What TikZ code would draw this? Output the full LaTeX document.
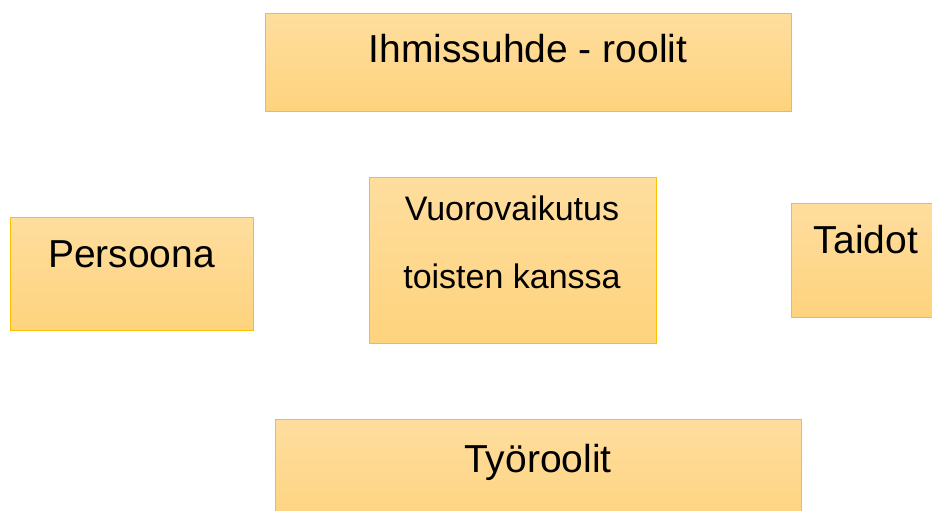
\documentclass[tikz,border=0pt]{standalone}
\usepackage{fontspec}
\setmainfont{Liberation Sans}
\usetikzlibrary{positioning}
\definecolor{boxtop}{HTML}{FEDD9E}
\definecolor{boxbot}{HTML}{FED37D}
\definecolor{boxline}{HTML}{FFC000}
\tikzset{
  area/.style={draw=boxline, line width=1.2pt, top color=boxtop, bottom color=boxbot,
    anchor=north west, inner sep=0pt},
  bigtext/.style={font=\fontsize{39}{44}\selectfont, anchor=base, inner sep=0pt},
  midtext/.style={font=\fontsize{34}{40}\selectfont, anchor=base, inner sep=0pt},
}
\begin{document}
\begin{tikzpicture}[x=1pt,y=-1pt]
	% --- Canvas ---
	\useasboundingbox (0,0) rectangle (932,511);
	% --- Boxes ---
	\node[area, minimum width=526pt, minimum height=98pt] (ihmissuhde) at (265,13) {};
	\node[area, minimum width=243pt, minimum height=113pt] (persoona) at (10,217) {};
	\node[area, minimum width=287pt, minimum height=166pt] (vuoro) at (369,177) {};
	\node[area, minimum width=160pt, minimum height=114pt] (taidot) at (791,203) {};
	\node[area, minimum width=526pt, minimum height=110pt] (tyoroolit) at (275,419) {};
	% --- Texts ---
	\node[bigtext] (ihmissuhdeText) at (528,63) {Ihmissuhde - roolit};
	\node[bigtext] (persoonaText) at (131.5,267) {Persoona};
	\node[midtext] (vuoroText) at (512,220) {Vuorovaikutus};
	\node[midtext] (kanssaText) at (512,288) {toisten kanssa};
	\node[bigtext] (taidotText) at (866,253) {Taidot};
	\node[bigtext] (tyoroolitText) at (538,472) {Työroolit};
\end{tikzpicture}
\end{document}
